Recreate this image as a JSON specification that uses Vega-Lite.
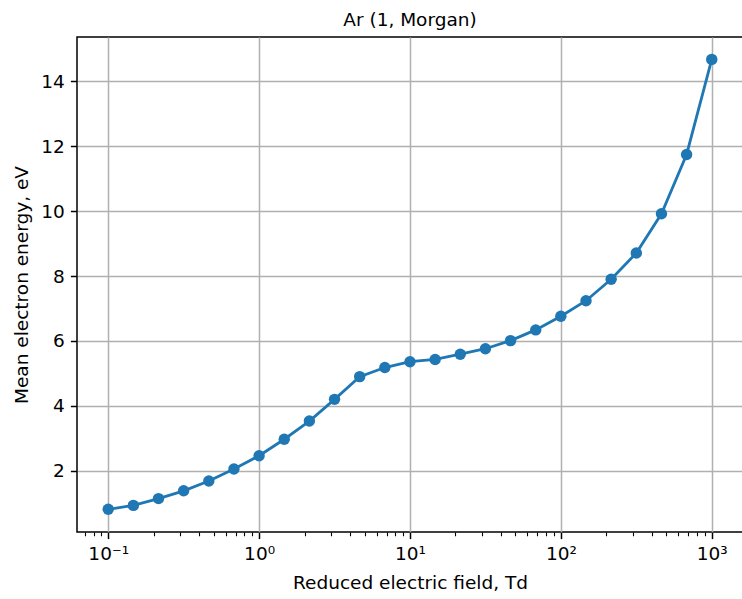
{
  "$schema": "https://vega.github.io/schema/vega-lite/v6.json",
  "autosize": "none",
  "padding": {"left": 77, "top": 37, "right": 0, "bottom": 67},
  "width": 666,
  "height": 495,
  "background": "white",
  "title": {
    "text": "Ar (1, Morgan)",
    "font": "DejaVu Sans",
    "fontSize": 18.5,
    "fontWeight": "normal",
    "color": "black",
    "anchor": "middle",
    "baseline": "bottom",
    "offset": 6,
    "dy": 17
  },
  "config": {
    "view": {"stroke": "black", "strokeWidth": 1.5},
    "axis": {
      "labelFont": "DejaVu Sans",
      "titleFont": "DejaVu Sans",
      "labelFontSize": 18.5,
      "titleFontSize": 18.5,
      "titleFontWeight": "normal",
      "labelColor": "black",
      "titleColor": "black",
      "tickColor": "black",
      "domain": false,
      "gridColor": "#b0b0b0",
      "gridWidth": 1.5,
      "labelOverlap": false,
      "labelFlush": false,
      "labelBound": false
    }
  },
  "data": {
    "values": [
      {"field": 0.1, "energy": 0.81},
      {"field": 0.1468, "energy": 0.93},
      {"field": 0.2154, "energy": 1.14},
      {"field": 0.3162, "energy": 1.38},
      {"field": 0.4642, "energy": 1.68},
      {"field": 0.6813, "energy": 2.05},
      {"field": 1, "energy": 2.46},
      {"field": 1.468, "energy": 2.97},
      {"field": 2.154, "energy": 3.53},
      {"field": 3.162, "energy": 4.2},
      {"field": 4.642, "energy": 4.9},
      {"field": 6.813, "energy": 5.18},
      {"field": 10, "energy": 5.36},
      {"field": 14.68, "energy": 5.43},
      {"field": 21.54, "energy": 5.59},
      {"field": 31.62, "energy": 5.76},
      {"field": 46.42, "energy": 6.01},
      {"field": 68.13, "energy": 6.34},
      {"field": 100, "energy": 6.76},
      {"field": 146.8, "energy": 7.24},
      {"field": 215.4, "energy": 7.9},
      {"field": 316.2, "energy": 8.71},
      {"field": 464.2, "energy": 9.92},
      {"field": 681.3, "energy": 11.75},
      {"field": 1000, "energy": 14.68}
    ]
  },
  "mark": {
    "type": "line",
    "color": "#1f77b4",
    "strokeWidth": 2.8,
    "point": {"filled": true, "size": 130, "color": "#1f77b4", "opacity": 1}
  },
  "encoding": {
    "x": {
      "field": "field",
      "type": "quantitative",
      "scale": {"type": "log", "domain": [0.0621, 1611], "nice": false, "zero": false},
      "axis": {
        "title": "Reduced electric field, Td",
        "values": [0.07, 0.08, 0.09, 0.1, 0.2, 0.3, 0.4, 0.5, 0.6, 0.7, 0.8, 0.9, 1, 2, 3, 4, 5, 6, 7, 8, 9, 10, 20, 30, 40, 50, 60, 70, 80, 90, 100, 200, 300, 400, 500, 600, 700, 800, 900, 1000],
        "labelExpr": "datum.value == 0.1 ? '10⁻¹' : datum.value == 1 ? '10⁰' : datum.value == 10 ? '10¹' : datum.value == 100 ? '10²' : datum.value == 1000 ? '10³' : ''",
        "tickSize": {"condition": {"test": "indexof([0.1, 1, 10, 100, 1000], datum.value) >= 0", "value": 6.6}, "value": 3.75},
        "tickWidth": {"condition": {"test": "indexof([0.1, 1, 10, 100, 1000], datum.value) >= 0", "value": 1.5}, "value": 1.1},
        "gridOpacity": {"condition": {"test": "indexof([0.1, 1, 10, 100, 1000], datum.value) >= 0", "value": 1}, "value": 0},
        "labelPadding": 6,
        "titlePadding": 10
      }
    },
    "y": {
      "field": "energy",
      "type": "quantitative",
      "scale": {"domain": [0.11, 15.37], "nice": false, "zero": false},
      "axis": {
        "title": "Mean electron energy, eV",
        "values": [2, 4, 6, 8, 10, 12, 14],
        "tickSize": 6.6,
        "tickWidth": 1.5,
        "labelPadding": 6,
        "titlePadding": 9
      }
    }
  }
}
